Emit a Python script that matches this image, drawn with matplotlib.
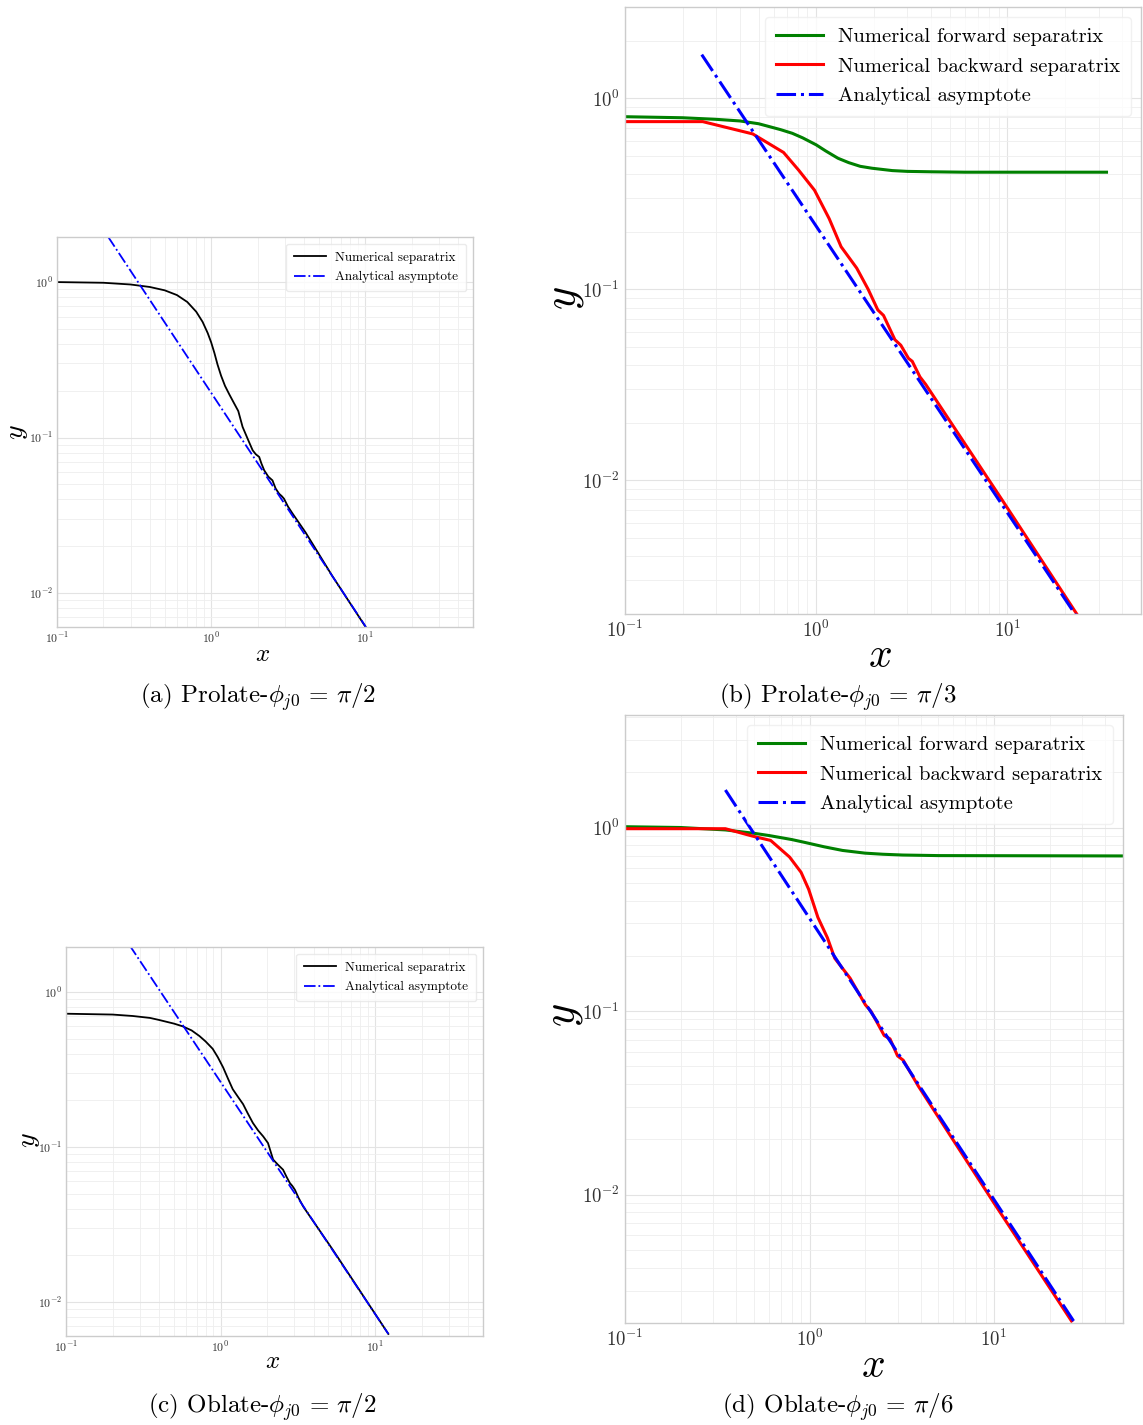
import matplotlib
matplotlib.use("Agg")
import matplotlib.pyplot as plt

plt.rcParams['font.family'] = 'serif'
plt.rcParams['font.serif'] = ['cmr10', 'DejaVu Serif']
plt.rcParams['mathtext.fontset'] = 'cm'
plt.rcParams['axes.formatter.use_mathtext'] = True

# (a) prolate, phi_j0 = pi/2
a_num_x = [0.1, 0.2, 0.3, 0.4, 0.5, 0.6, 0.7, 0.8, 0.88, 0.95, 1.0, 1.05, 1.1, 1.16, 1.23,
           1.31, 1.4, 1.5, 1.6, 1.75, 1.86, 1.95, 2.05, 2.12, 2.21, 2.35, 2.50, 2.62, 2.76,
           2.87, 2.97, 3.15, 3.37, 4.1, 6.1, 10.1]
a_num_y = [1.0, 0.99, 0.965, 0.93, 0.885, 0.825, 0.745, 0.645, 0.555, 0.47, 0.41, 0.35,
           0.295, 0.25, 0.215, 0.19, 0.168, 0.148, 0.117, 0.095, 0.0827, 0.078, 0.075,
           0.068, 0.0615, 0.056, 0.053, 0.047, 0.0435, 0.042, 0.0404, 0.036, 0.0325,
           0.0245, 0.0129, 0.0060]
a_asy_x = [0.215, 10.1]
a_asy_y = [1.95, 0.00604]

# (b) prolate, phi_j0 = pi/3
b_fwd_x = [0.1, 0.2, 0.3, 0.4, 0.5, 0.65, 0.75, 0.85, 1.0, 1.12, 1.3, 1.48, 1.7, 1.96,
           2.5, 3.0, 4.0, 6.0, 33.0]
b_fwd_y = [0.80, 0.79, 0.775, 0.76, 0.735, 0.685, 0.655, 0.62, 0.57, 0.53, 0.485, 0.46,
           0.44, 0.43, 0.418, 0.414, 0.412, 0.41, 0.41]
b_bwd_x = [0.1, 0.255, 0.466, 0.675, 0.81, 0.98, 1.17, 1.35, 1.63, 1.87, 2.10, 2.25,
           2.58, 2.77, 3.04, 3.18, 3.49, 3.74, 5.96, 9.47, 23.3]
b_bwd_y = [0.754, 0.754, 0.65, 0.52, 0.42, 0.33, 0.234, 0.167, 0.129, 0.10, 0.078, 0.073,
           0.0545, 0.051, 0.0435, 0.042, 0.0348, 0.0318, 0.0157, 0.0078, 0.00197]
b_asy_x = [0.252, 22.8]
b_asy_y = [1.69, 0.00197]

# (c) oblate, phi_j0 = pi/2
c_num_x = [0.1, 0.2, 0.27, 0.35, 0.4, 0.5, 0.57, 0.65, 0.73, 0.8, 0.89, 0.96, 1.04, 1.12,
           1.2, 1.3, 1.4, 1.5, 1.62, 1.75, 1.89, 2.03, 2.1, 2.19, 2.35, 2.54, 2.68, 2.81,
           2.92, 3.03, 3.2, 3.43, 5.37, 12.2]
c_num_y = [0.724, 0.715, 0.70, 0.68, 0.66, 0.625, 0.60, 0.565, 0.52, 0.48, 0.43, 0.38,
           0.326, 0.275, 0.236, 0.21, 0.189, 0.165, 0.143, 0.128, 0.117, 0.106, 0.095,
           0.083, 0.077, 0.0714, 0.064, 0.0586, 0.056, 0.053, 0.047, 0.0413, 0.0215, 0.00623]
c_asy_x = [0.258, 12.2]
c_asy_y = [2.0, 0.00623]

# (d) oblate, phi_j0 = pi/6
d_fwd_x = [0.1, 0.2, 0.35, 0.5, 0.6, 0.8, 0.94, 1.2, 1.51, 2.0, 2.5, 3.2, 5.0, 50.0]
d_fwd_y = [1.01, 1.0, 0.97, 0.93, 0.905, 0.86, 0.83, 0.785, 0.75, 0.725, 0.715, 0.708,
           0.703, 0.70]
d_bwd_x = [0.1, 0.35, 0.486, 0.616, 0.78, 0.90, 0.99, 1.11, 1.25, 1.37, 1.66, 2.01, 2.15,
           2.54, 2.73, 3.0, 3.22, 3.89, 6.24, 10.0, 26.3]
d_bwd_y = [0.985, 0.985, 0.90, 0.85, 0.69, 0.57, 0.46, 0.324, 0.251, 0.194, 0.151, 0.108,
           0.10, 0.0736, 0.0706, 0.057, 0.054, 0.039, 0.0187, 0.0090, 0.00205]
d_asy_x = [0.35, 27.0]
d_asy_y = [1.6, 0.00205]

captions = [r'(a) Prolate-$\phi_{j0}\,=\,\pi/2$', r'(b) Prolate-$\phi_{j0}\,=\,\pi/3$',
            r'(c) Oblate-$\phi_{j0}\,=\,\pi/2$', r'(d) Oblate-$\phi_{j0}\,=\,\pi/6$']

W, H = 1143, 1425


def box(left, top, right, bottom):
    return [left / W, (H - bottom) / H, (right - left) / W, (bottom - top) / H]


def style_axes(ax, ylim, tick_fs):
    ax.set_xscale('log')
    ax.set_yscale('log')
    ax.set_xlim(0.1, 50)
    ax.set_ylim(*ylim)
    ax.set_facecolor('white')
    ax.grid(True, which='major', color='#e3e3e3', linewidth=0.8)
    ax.grid(True, which='minor', color='#eeeeee', linewidth=0.6)
    ax.set_axisbelow(True)
    for s in ax.spines.values():
        s.set_color('#cccccc')
        s.set_linewidth(1.0)
    ax.tick_params(which='both', length=0, labelsize=tick_fs, colors='#333333')
    ax.tick_params(axis='x', pad=tick_fs * 0.3)
    ax.tick_params(axis='y', pad=tick_fs * 0.3)
    ax.yaxis.set_minor_formatter(plt.NullFormatter())
    ax.xaxis.set_minor_formatter(plt.NullFormatter())


fig = plt.figure(figsize=(W / 100, H / 100), dpi=100)

# small panels
small = [
    (box(57, 237, 473, 627), a_num_x, a_num_y, a_asy_x, a_asy_y, (0.00604, 1.95)),
    (box(66, 947, 483, 1336), c_num_x, c_num_y, c_asy_x, c_asy_y, (0.00604, 1.95)),
]
small_lab = [((-0.096, 0.5), (0.495, -0.072)), ((-0.088, 0.504), (0.496, -0.067))]
for (rect, nx, ny, ax_, ay_, ylim), (ylc, xlc) in zip(small, small_lab):
    ax = fig.add_axes(rect)
    style_axes(ax, ylim, 8.5)
    ax.plot(nx, ny, color='black', lw=1.3, label='Numerical separatrix')
    ax.plot(ax_, ay_, color='blue', lw=1.3, ls='-.', label='Analytical asymptote')
    leg = ax.legend(loc='upper right', fontsize=9.5, frameon=True, fancybox=True,
                    handlelength=2.4, handletextpad=0.75, borderpad=0.6, labelspacing=0.55)
    leg.get_frame().set_edgecolor('#e6e6e6')
    ax.set_ylabel('$y$', fontsize=20, va='center', ha='center')
    ax.set_xlabel('$x$', fontsize=18, va='center', ha='center')
    ax.yaxis.set_label_coords(*ylc)
    ax.xaxis.set_label_coords(*xlc)

# large panels
large = [
    (box(625, 7, 1141, 614), b_fwd_x, b_fwd_y, b_bwd_x, b_bwd_y, b_asy_x, b_asy_y, (0.002, 3.0)),
    (box(625, 715, 1123, 1323), d_fwd_x, d_fwd_y, d_bwd_x, d_bwd_y, d_asy_x, d_asy_y, (0.002, 4.1)),
]
large_lab = [((-0.115, 0.52), (0.494, -0.069)), ((-0.121, 0.507), (0.498, -0.071))]
for (rect, fx, fy, bx, by, ax_, ay_, ylim), (ylc, xlc) in zip(large, large_lab):
    ax = fig.add_axes(rect)
    style_axes(ax, ylim, 13.5)
    ax.plot(fx, fy, color='green', lw=2.2, label='Numerical forward separatrix')
    ax.plot(bx, by, color='red', lw=2.2, label='Numerical backward separatrix')
    ax.plot(ax_, ay_, color='blue', lw=2.2, ls='-.', label='Analytical asymptote')
    leg = ax.legend(loc='upper right', fontsize=14.8, frameon=True, fancybox=True,
                    handlelength=2.3, handletextpad=0.75, borderpad=0.5, labelspacing=0.55)
    leg.get_frame().set_edgecolor('#eeeeee')
    ax.set_ylabel('$y$', fontsize=32, va='center', ha='center')
    ax.set_xlabel('$x$', fontsize=30, va='center', ha='center')
    ax.yaxis.set_label_coords(*ylc)
    ax.xaxis.set_label_coords(*xlc)

cap_pos = [(258, 697), (838, 697), (262, 1407), (838, 1407)]
for (cx, cy), txt in zip(cap_pos, captions):
    fig.text(cx / W, 1 - cy / H, txt, fontsize=18, ha='center', va='center')

fig.savefig('out.png', dpi=100)
